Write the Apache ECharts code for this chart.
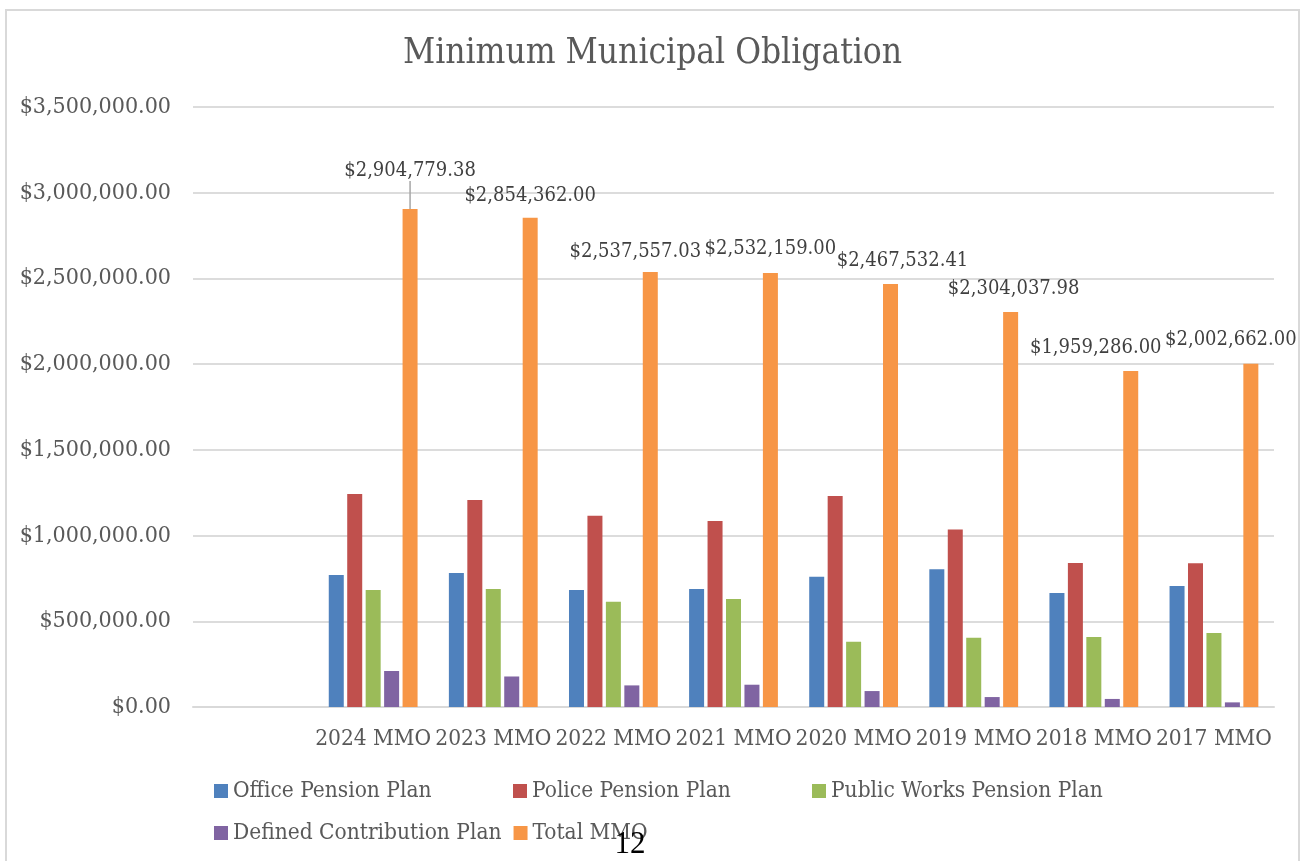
<!DOCTYPE html>
<html>
<head>
<meta charset="utf-8">
<title>Minimum Municipal Obligation</title>
<script src="https://cdn.jsdelivr.net/npm/echarts@6/dist/echarts.min.js"></script>
<style>
    html, body {
        margin: 0;
        padding: 0;
        background: #fff;
    }
    #chart {
        width: 1305px;
        height: 861px;
    }
</style>
</head>
<body>
<div id="chart"></div>
<script>
// first slot of the category axis is empty in the original
const categories = ["", "2024 MMO", "2023 MMO", "2022 MMO", "2021 MMO", "2020 MMO", "2019 MMO", "2018 MMO", "2017 MMO"]
const officePension = [null, 770000, 782000, 682000, 688000, 760000, 803000, 665000, 706000]
const policePension = [null, 1242000, 1207000, 1116000, 1085000, 1231000, 1036000, 840000, 838000]
const publicWorksPension = [null, 682000, 688000, 614000, 630000, 381000, 404000, 408000, 432000]
const definedContribution = [null, 210000, 178000, 126000, 130000, 93000, 58000, 47000, 27000]
const totalMMO = [null, 2904779.38, 2854362.00, 2537557.03, 2532159.00, 2467532.41, 2304037.98, 1959286.00, 2002662.00]
const yTicks = [0, 500000, 1000000, 1500000, 2000000, 2500000, 3000000, 3500000]

// where Excel nudged the total labels (px)
const labelShift = [[0, 0], [0, -16], [0, 0], [-15, 2], [0, -2], [12, -1], [3, -1], [-35, -1], [-20, -2]]

const FONT = "'DejaVu Serif Condensed', 'Liberation Serif', serif"
const GREY = "#595959"

function money(v) {
    let parts = Number(v).toFixed(2).split(".")
    parts[0] = parts[0].replace(/\B(?=(\d{3})+(?!\d))/g, ",")
    return "$" + parts.join(".")
}

const chart = echarts.init(document.getElementById("chart"))

function barSeries(name, values, color) {
    return {
        name: name,
        type: "bar",
        data: values,
        barWidth: 15,
        barGap: "23%",
        itemStyle: { color: color },
    }
}

const totalSeries = barSeries("Total MMO", totalMMO.map((v, i) => {
    if (i === 1) {
        return { value: v, labelLine: { show: true, lineStyle: { color: "#a6a6a6", width: 1.5 } } }
    }
    return v
}), "#F79646")
totalSeries.label = {
    show: true,
    position: "top",
    distance: 12,
    fontFamily: FONT,
    fontSize: 20,
    color: "#404040",
    formatter: (p) => (p.value == null ? "" : money(p.value)),
}
totalSeries.labelLine = { show: false }
totalSeries.labelLayout = function (params) {
    let s = labelShift[params.dataIndex] || [0, 0]
    return { dx: s[0], dy: s[1] }
}

let option = {
    animation: false,
    title: {
        text: "Minimum Municipal Obligation",
        left: "center",
        top: 31,
        textStyle: {
            fontFamily: FONT,
            fontWeight: "normal",
            fontSize: 35,
            color: GREY,
        },
    },
    graphic: [
        {
            type: "rect",
            shape: { x: 6, y: 10, width: 1293, height: 900 },
            style: { fill: "none", stroke: "#d9d9d9", lineWidth: 2 },
            silent: true,
        },
        {
            type: "text",
            x: 630,
            y: 845,
            style: {
                text: "12",
                fontFamily: "'Liberation Serif', serif",
                fontSize: 31,
                fill: "#000",
                align: "center",
                verticalAlign: "middle",
            },
            z: 100,
        },
    ],
    legend: {
        data: ["Office Pension Plan", "Police Pension Plan", "Public Works Pension Plan", "Defined Contribution Plan", "Total MMO"],
        left: 209,
        top: 771,
        width: 920,
        icon: "rect",
        itemWidth: 14,
        itemHeight: 14,
        itemGap: 12,
        textStyle: {
            fontFamily: FONT,
            fontSize: 22.5,
            color: GREY,
            width: 268,
            lineHeight: 30,
        },
    },
    grid: {
        left: 193,
        right: 31,
        top: 107,
        bottom: 154,
    },
    xAxis: {
        type: "category",
        data: categories,
        axisTick: { show: false },
        axisLine: { lineStyle: { color: "#d9d9d9", width: 2 } },
        axisLabel: {
            interval: 0,
            margin: 21,
            fontFamily: FONT,
            fontSize: 22.5,
            color: GREY,
        },
    },
    yAxis: {
        type: "value",
        min: yTicks[0],
        max: yTicks[yTicks.length - 1],
        interval: yTicks[1] - yTicks[0],
        axisLine: { show: false },
        axisTick: { show: false },
        splitLine: { lineStyle: { color: "#dcdcdc", width: 2 } },
        axisLabel: {
            margin: 22,
            fontFamily: FONT,
            fontSize: 23,
            color: GREY,
            formatter: (v) => money(v),
        },
    },
    series: [
        barSeries("Office Pension Plan", officePension, "#4F81BD"),
        barSeries("Police Pension Plan", policePension, "#C0504D"),
        barSeries("Public Works Pension Plan", publicWorksPension, "#9BBB59"),
        barSeries("Defined Contribution Plan", definedContribution, "#8064A2"),
        totalSeries,
    ],
}

chart.setOption(option)
</script>
</body>
</html>
